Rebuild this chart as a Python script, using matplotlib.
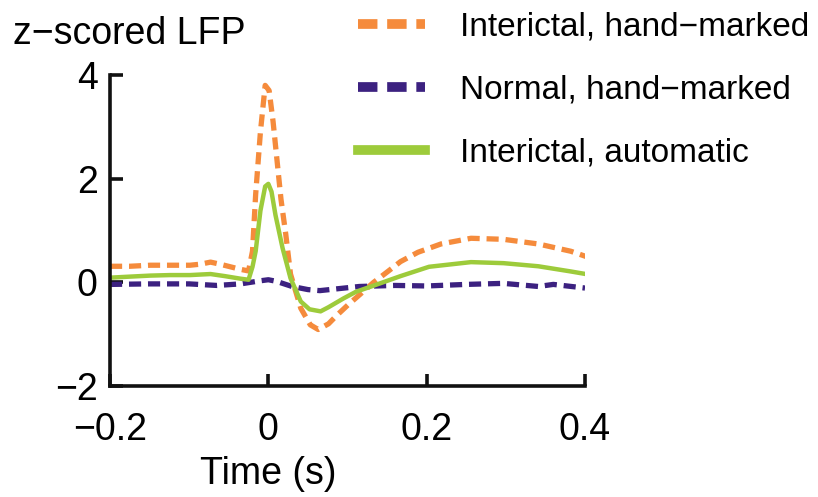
import matplotlib
matplotlib.use('Agg')
import matplotlib.pyplot as plt
from matplotlib.lines import Line2D

plt.rcParams['font.family'] = ['Liberation Sans', 'DejaVu Sans']

# interictal, hand-marked (orange dashed)
t_inter = [-0.2, -0.175, -0.149, -0.124, -0.099, -0.086, -0.073, -0.061, -0.048, -0.035,
           -0.025, -0.020, -0.016, -0.010, -0.004, 0.001, 0.006, 0.011, 0.016, 0.022,
           0.028, 0.041, 0.053, 0.063, 0.076, 0.087, 0.101, 0.116, 0.133, 0.151,
           0.167, 0.189, 0.218, 0.256, 0.297, 0.341, 0.382, 0.401]
v_inter = [0.31, 0.31, 0.33, 0.33, 0.33, 0.35, 0.39, 0.35, 0.30, 0.25,
           0.22, 0.6, 1.7, 2.9, 3.8, 3.7, 3.1, 2.35, 1.6, 0.93,
           0.16, -0.5, -0.82, -0.91, -0.8, -0.63, -0.43, -0.23, 0.0, 0.21,
           0.40, 0.58, 0.74, 0.85, 0.83, 0.74, 0.6, 0.5]

# normal, hand-marked (purple dashed)
t_norm = [-0.2, -0.15, -0.1, -0.065, -0.035, -0.01, 0.0, 0.01, 0.03, 0.05,
          0.065, 0.09, 0.115, 0.16, 0.2, 0.25, 0.297, 0.341, 0.36, 0.4]
v_norm = [-0.04, -0.03, -0.03, -0.06, -0.03, 0.03, 0.05, 0.02, -0.08, -0.14,
          -0.16, -0.12, -0.08, -0.06, -0.07, -0.04, -0.02, -0.08, -0.04, -0.11]

# interictal, automatic (green solid)
t_auto = [-0.2, -0.175, -0.149, -0.124, -0.099, -0.073, -0.055, -0.035, -0.025, -0.020,
          -0.016, -0.010, -0.004, 0.0, 0.004, 0.009, 0.018, 0.028, 0.041, 0.052,
          0.066, 0.076, 0.095, 0.111, 0.130, 0.167, 0.203, 0.256, 0.297, 0.341,
          0.382, 0.401]
v_auto = [0.09, 0.11, 0.13, 0.14, 0.14, 0.16, 0.12, 0.07, 0.05, 0.3,
          0.6, 1.38, 1.85, 1.9, 1.75, 1.3, 0.66, 0.08, -0.37, -0.52,
          -0.56, -0.48, -0.31, -0.18, -0.08, 0.12, 0.3, 0.39, 0.37, 0.31,
          0.21, 0.16]

labels = ['Interictal, hand\u2212marked', 'Normal, hand\u2212marked', 'Interictal, automatic']
orange = '#F58B3C'
purple = '#3C2180'
green = '#9DCB3B'

fig = plt.figure(figsize=(8.18, 4.97), dpi=100)
ax = fig.add_axes([110 / 818, 1 - 386 / 497, 475 / 818, 311 / 497])

ax.plot(t_inter, v_inter, color=orange, lw=3.8, dashes=(2.3, 1.3))
ax.plot(t_norm, v_norm, color=purple, lw=3.8, dashes=(2.3, 1.3))
ax.plot(t_auto, v_auto, color=green, lw=3.2)

ax.set_xlim(-0.2, 0.4)
ax.set_ylim(-2, 4)
ax.set_xticks([-0.2, 0, 0.2, 0.4])
ax.set_xticklabels(['\u22120.2', '0', '0.2', '0.4'])
ax.set_yticks([-2, 0, 2, 4])
ax.set_yticklabels(['\u22122', '0', '2', '4'])
for s in ['top', 'right']:
    ax.spines[s].set_visible(False)
for s in ['left', 'bottom']:
    ax.spines[s].set_linewidth(2.6)
    ax.spines[s].set_color('#111111')
ax.tick_params(axis='both', direction='in', length=9, width=2.6, labelsize=27, color='#111111')
ax.tick_params(axis='y', pad=9)
ax.tick_params(axis='x', pad=19)
ax.set_xlabel('Time (s)', fontsize=27)
ax.xaxis.set_label_coords(158 / 475, -0.225)

fig.text(13 / 818, 1 - 44 / 497, 'z\u2212scored LFP', fontsize=27, ha='left', va='baseline')

handles = [Line2D([], [], color=orange, lw=7, dashes=(2, 1)),
           Line2D([], [], color=purple, lw=7, dashes=(2, 1)),
           Line2D([], [], color=green, lw=7)]
fig.legend(handles, labels, loc='upper left', bbox_to_anchor=(358 / 818, 1 - 12 / 497),
           frameon=False, fontsize=24, handlelength=2.0, handletextpad=1.05,
           labelspacing=0.95, borderpad=0, borderaxespad=0)

fig.savefig('out.png', dpi=100)
